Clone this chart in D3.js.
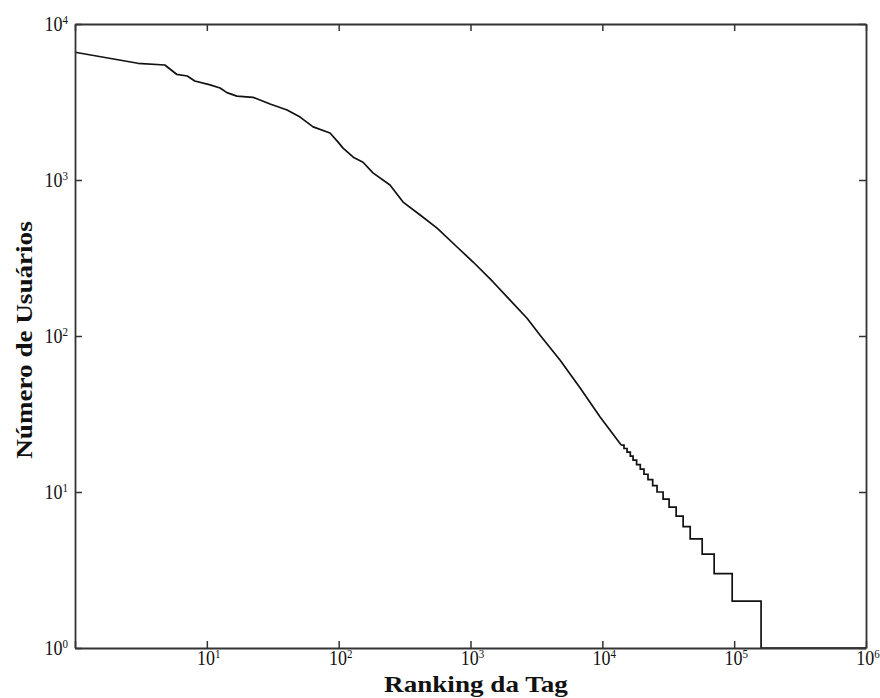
<!DOCTYPE html>
<html>
<head>
<meta charset="utf-8">
<script src="https://cdn.jsdelivr.net/npm/d3@7"></script>
<style>
  html, body { margin: 0; padding: 0; background: #fff; }
  svg { display: block; }
  text { font-family: "Liberation Serif", "DejaVu Serif", serif; fill: #111; }
</style>
</head>
<body>
<svg id="chart" width="880" height="698"></svg>
<script>
// ---- data ----
// smooth head of the rank/frequency curve: tag rank, number of users
const headRanks  = [1, 3.0, 4.8, 5.9, 7.1, 8.1, 10.6, 12.6, 14.2, 16.9, 22.4, 30.2, 40.6, 51, 64, 86, 99, 108, 129, 153, 182, 245, 308, 415, 558, 791, 1047, 1484, 1995, 2685, 3373, 4786, 6790, 9620, 13900];
const headUsers  = [6590, 5600, 5460, 4760, 4640, 4310, 4070, 3890, 3630, 3450, 3390, 3070, 2810, 2530, 2190, 2000, 1750, 1600, 1400, 1300, 1110, 929, 722, 597, 492, 372, 298, 222, 170, 130, 101, 70, 46.4, 30.3, 20];
// stepped tail: rank where each integer count begins
const tailRanks  = [13900, 14600, 15400, 16300, 17100, 18200, 19400, 20700, 22200, 24100, 26000, 28900, 32100, 36300, 41000, 46400, 57200, 70500, 96600, 160000, 1000000];
const tailUsers  = [20, 19, 18, 17, 16, 15, 14, 13, 12, 11, 10, 9, 8, 7, 6, 5, 4, 3, 2, 1, 1];
// axis ticks
const xTickExps = [0, 1, 2, 3, 4, 5, 6];
const xLabelExps = [1, 2, 3, 4, 5, 6];
const yTickExps = [0, 1, 2, 3, 4];
const xTitle = "Ranking da Tag";
const yTitle = "Número de Usuários";

// ---- layout ----
const L = 75, R = 866, T = 24, B = 648;
const svg = d3.select("#chart");
const x = d3.scaleLog().domain([1, 1e6]).range([L, R]);
const y = d3.scaleLog().domain([1, 1e4]).range([B, T]);
const VS = 1.12;   // vertical stretch of tick labels
const TS = 1.13;   // along-text stretch of the axis titles

const head = headRanks.map((r, i) => [r, headUsers[i]]);
const tail = tailRanks.map((r, i) => [r, tailUsers[i]]);

const g = svg.append("g");

// data line
const lineLin = d3.line().x(d => x(d[0])).y(d => y(d[1])).curve(d3.curveLinear);
const lineStep = d3.line().x(d => x(d[0])).y(d => y(d[1])).curve(d3.curveStepAfter);
g.append("path").attr("d", lineLin(head)).attr("fill", "none").attr("stroke", "#111").attr("stroke-width", 1.7).attr("stroke-linejoin", "round");
g.append("path").attr("d", lineStep(tail)).attr("fill", "none").attr("stroke", "#111").attr("stroke-width", 1.7);

// axes with inward ticks, no labels
const tickLen = 7;
const xv = xTickExps.map(e => Math.pow(10, e));
const yv = yTickExps.map(e => Math.pow(10, e));
function styleAxis(sel) {
  sel.select(".domain").attr("stroke", "#333").attr("stroke-width", 1.8);
  sel.selectAll(".tick line").attr("stroke", "#333").attr("stroke-width", 1.5);
  sel.selectAll(".tick text").remove();
}
g.append("g").attr("transform", `translate(0,${B})`)
  .call(d3.axisBottom(x).tickValues(xv).tickSizeInner(-tickLen).tickSizeOuter(0).tickFormat(""))
  .call(styleAxis);
g.append("g").attr("transform", `translate(0,${T})`)
  .call(d3.axisTop(x).tickValues(xv).tickSizeInner(-tickLen).tickSizeOuter(0).tickFormat(""))
  .call(styleAxis);
g.append("g").attr("transform", `translate(${L},0)`)
  .call(d3.axisLeft(y).tickValues(yv).tickSizeInner(-tickLen).tickSizeOuter(0).tickFormat(""))
  .call(styleAxis);
g.append("g").attr("transform", `translate(${R},0)`)
  .call(d3.axisRight(y).tickValues(yv).tickSizeInner(-tickLen).tickSizeOuter(0).tickFormat(""))
  .call(styleAxis);

// tick labels "10^n"
function powLabel(sel, e) {
  sel.append("tspan").attr("font-size", 18).text("10");
  sel.append("tspan").attr("font-size", 11).attr("dy", -6).text(e);
}
xLabelExps.forEach(e => {
  const t = g.append("text")
    .attr("text-anchor", "middle")
    .attr("transform", `translate(${x(Math.pow(10, e)) + 2},665) scale(1,${VS})`);
  powLabel(t, e);
});
yTickExps.forEach(e => {
  const t = g.append("text")
    .attr("text-anchor", "end")
    .attr("transform", `translate(68,${y(Math.pow(10, e)) + 6.5}) scale(1,${VS})`);
  powLabel(t, e);
});

// axis titles
g.append("text")
  .attr("text-anchor", "middle")
  .attr("font-weight", "bold")
  .attr("font-size", 24)
  .attr("transform", `translate(476,692) scale(${TS},1)`)
  .text(xTitle);
g.append("text")
  .attr("text-anchor", "middle")
  .attr("font-weight", "bold")
  .attr("font-size", 24)
  .attr("transform", `translate(32,340) rotate(-90) scale(${TS},1)`)
  .text(yTitle);
</script>
</body>
</html>
